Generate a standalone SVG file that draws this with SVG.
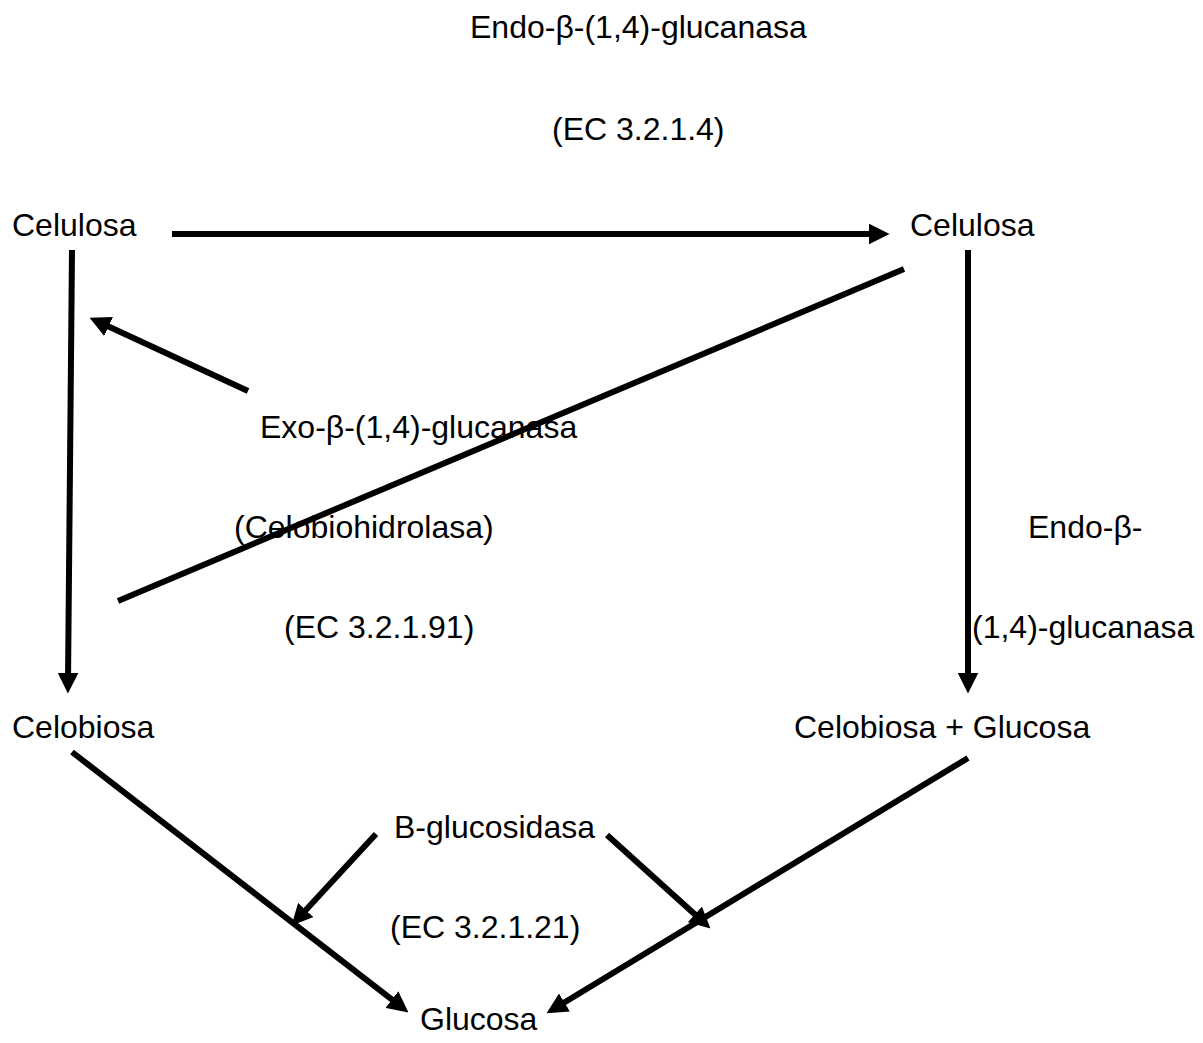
<svg xmlns="http://www.w3.org/2000/svg" width="1203" height="1043" viewBox="0 0 1203 1043">
<style>
text{font-family:"Liberation Sans",Arial,sans-serif;font-size:32px;fill:#000}
.c line{stroke:#000;stroke-width:6;fill:none}
</style>
<defs>
<marker id="ah" viewBox="0 0 20 20" refX="8" refY="10" markerWidth="21" markerHeight="21" markerUnits="userSpaceOnUse" orient="auto">
<path d="M0,0 L20,10 L0,20 z" fill="#000"/>
</marker>
</defs>
<rect width="1203" height="1043" fill="#fff"/>
<g id="n-endo-top"><text x="470" y="38">Endo-β-(1,4)-glucanasa</text><text x="552" y="140">(EC 3.2.1.4)</text></g>
<g id="n-celulosa-l"><text x="12" y="236">Celulosa</text></g>
<g id="n-celulosa-r"><text x="910" y="236">Celulosa</text></g>
<g id="n-exo"><text x="260" y="438">Exo-β-(1,4)-glucanasa</text><text x="234" y="538">(Celobiohidrolasa)</text><text x="284" y="638">(EC 3.2.1.91)</text></g>
<g id="n-endo-r"><text x="1028" y="538">Endo-β-</text><text x="972" y="638">(1,4)-glucanasa</text></g>
<g id="n-celobiosa"><text x="12" y="738">Celobiosa</text></g>
<g id="n-celob-gluc"><text x="794" y="738">Celobiosa + Glucosa</text></g>
<g id="n-bgluc"><text x="394" y="838">B-glucosidasa</text><text x="390" y="938">(EC 3.2.1.21)</text></g>
<g id="n-glucosa"><text x="420" y="1030">Glucosa</text></g>
<g class="c" id="connectors">
<line x1="172" y1="234" x2="877" y2="234" marker-end="url(#ah)"/>
<line x1="72" y1="250" x2="68" y2="681" marker-end="url(#ah)"/>
<line x1="968" y1="250" x2="968" y2="681" marker-end="url(#ah)"/>
<line x1="248" y1="391" x2="101" y2="323" marker-end="url(#ah)"/>
<line x1="118" y1="601" x2="904" y2="269"/>
<line x1="72" y1="752" x2="398.5" y2="1004.7" marker-end="url(#ah)"/>
<line x1="376" y1="834" x2="300.1" y2="916.2" marker-end="url(#ah)"/>
<line x1="607" y1="835" x2="701.1" y2="920" marker-end="url(#ah)"/>
<line x1="968" y1="758" x2="557.3" y2="1006.8" marker-end="url(#ah)"/>
</g>
</svg>
